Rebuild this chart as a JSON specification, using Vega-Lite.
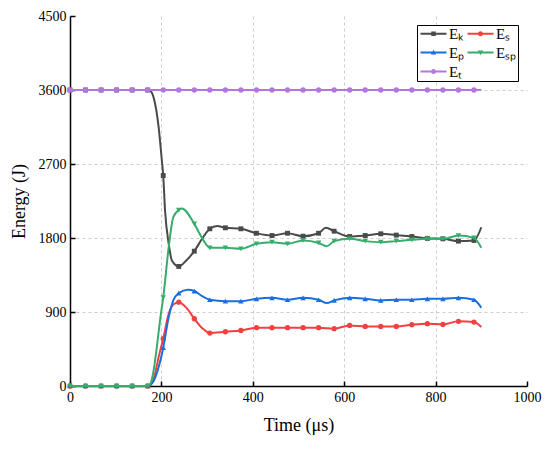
{
  "$schema": "https://vega.github.io/schema/vega-lite/v6.json",
  "width": 457,
  "height": 370,
  "autosize": {"type": "none"},
  "padding": {"left": 70, "top": 16, "right": 23, "bottom": 63},
  "background": "white",
  "datasets": {
    "energy": [
      {"t": 0, "s": "Ek", "E": 3600}, {"t": 34, "s": "Ek", "E": 3600}, {"t": 68, "s": "Ek", "E": 3600},
      {"t": 102, "s": "Ek", "E": 3600}, {"t": 136, "s": "Ek", "E": 3600}, {"t": 170, "s": "Ek", "E": 3600},
      {"t": 176, "s": "Ek", "E": 3590}, {"t": 183, "s": "Ek", "E": 3510}, {"t": 194, "s": "Ek", "E": 3146},
      {"t": 201, "s": "Ek", "E": 2741}, {"t": 204, "s": "Ek", "E": 2559}, {"t": 208, "s": "Ek", "E": 2134},
      {"t": 216, "s": "Ek", "E": 1730}, {"t": 223, "s": "Ek", "E": 1527}, {"t": 238, "s": "Ek", "E": 1454},
      {"t": 255, "s": "Ek", "E": 1530}, {"t": 272, "s": "Ek", "E": 1640}, {"t": 290, "s": "Ek", "E": 1800},
      {"t": 306, "s": "Ek", "E": 1912}, {"t": 322, "s": "Ek", "E": 1945}, {"t": 340, "s": "Ek", "E": 1924},
      {"t": 374, "s": "Ek", "E": 1912}, {"t": 408, "s": "Ek", "E": 1858}, {"t": 442, "s": "Ek", "E": 1830},
      {"t": 476, "s": "Ek", "E": 1858}, {"t": 510, "s": "Ek", "E": 1822}, {"t": 544, "s": "Ek", "E": 1858},
      {"t": 560, "s": "Ek", "E": 1924}, {"t": 578, "s": "Ek", "E": 1883}, {"t": 612, "s": "Ek", "E": 1818},
      {"t": 646, "s": "Ek", "E": 1830}, {"t": 680, "s": "Ek", "E": 1851}, {"t": 714, "s": "Ek", "E": 1835},
      {"t": 748, "s": "Ek", "E": 1818}, {"t": 782, "s": "Ek", "E": 1795}, {"t": 816, "s": "Ek", "E": 1790},
      {"t": 850, "s": "Ek", "E": 1762}, {"t": 884, "s": "Ek", "E": 1770}, {"t": 900, "s": "Ek", "E": 1931},

      {"t": 0, "s": "Es", "E": 0}, {"t": 34, "s": "Es", "E": 0}, {"t": 68, "s": "Es", "E": 0},
      {"t": 102, "s": "Es", "E": 0}, {"t": 136, "s": "Es", "E": 0}, {"t": 170, "s": "Es", "E": 0},
      {"t": 180, "s": "Es", "E": 40}, {"t": 186, "s": "Es", "E": 150}, {"t": 194, "s": "Es", "E": 352},
      {"t": 204, "s": "Es", "E": 575}, {"t": 216, "s": "Es", "E": 879}, {"t": 226, "s": "Es", "E": 992},
      {"t": 238, "s": "Es", "E": 1020}, {"t": 255, "s": "Es", "E": 950}, {"t": 272, "s": "Es", "E": 818},
      {"t": 290, "s": "Es", "E": 700}, {"t": 306, "s": "Es", "E": 644}, {"t": 340, "s": "Es", "E": 660},
      {"t": 374, "s": "Es", "E": 676}, {"t": 408, "s": "Es", "E": 709}, {"t": 442, "s": "Es", "E": 709},
      {"t": 476, "s": "Es", "E": 709}, {"t": 510, "s": "Es", "E": 709}, {"t": 544, "s": "Es", "E": 709},
      {"t": 578, "s": "Es", "E": 697}, {"t": 612, "s": "Es", "E": 737}, {"t": 646, "s": "Es", "E": 725},
      {"t": 680, "s": "Es", "E": 725}, {"t": 714, "s": "Es", "E": 725}, {"t": 748, "s": "Es", "E": 746},
      {"t": 782, "s": "Es", "E": 758}, {"t": 816, "s": "Es", "E": 749}, {"t": 850, "s": "Es", "E": 786},
      {"t": 884, "s": "Es", "E": 777}, {"t": 900, "s": "Es", "E": 717},

      {"t": 0, "s": "Ep", "E": 0}, {"t": 34, "s": "Ep", "E": 0}, {"t": 68, "s": "Ep", "E": 0},
      {"t": 102, "s": "Ep", "E": 0}, {"t": 136, "s": "Ep", "E": 0}, {"t": 170, "s": "Ep", "E": 0},
      {"t": 183, "s": "Ep", "E": 60}, {"t": 194, "s": "Ep", "E": 231}, {"t": 204, "s": "Ep", "E": 466},
      {"t": 216, "s": "Ep", "E": 838}, {"t": 226, "s": "Ep", "E": 1041}, {"t": 238, "s": "Ep", "E": 1130},
      {"t": 258, "s": "Ep", "E": 1171}, {"t": 272, "s": "Ep", "E": 1155}, {"t": 290, "s": "Ep", "E": 1090},
      {"t": 306, "s": "Ep", "E": 1049}, {"t": 340, "s": "Ep", "E": 1032}, {"t": 374, "s": "Ep", "E": 1032},
      {"t": 408, "s": "Ep", "E": 1061}, {"t": 442, "s": "Ep", "E": 1073}, {"t": 476, "s": "Ep", "E": 1049},
      {"t": 510, "s": "Ep", "E": 1073}, {"t": 544, "s": "Ep", "E": 1049}, {"t": 562, "s": "Ep", "E": 1008},
      {"t": 578, "s": "Ep", "E": 1041}, {"t": 612, "s": "Ep", "E": 1073}, {"t": 646, "s": "Ep", "E": 1061},
      {"t": 680, "s": "Ep", "E": 1041}, {"t": 714, "s": "Ep", "E": 1049}, {"t": 748, "s": "Ep", "E": 1049},
      {"t": 782, "s": "Ep", "E": 1061}, {"t": 816, "s": "Ep", "E": 1061}, {"t": 850, "s": "Ep", "E": 1073},
      {"t": 884, "s": "Ep", "E": 1049}, {"t": 900, "s": "Ep", "E": 952},

      {"t": 0, "s": "Esp", "E": 0}, {"t": 34, "s": "Esp", "E": 0}, {"t": 68, "s": "Esp", "E": 0},
      {"t": 102, "s": "Esp", "E": 0}, {"t": 136, "s": "Esp", "E": 0}, {"t": 170, "s": "Esp", "E": 0},
      {"t": 176, "s": "Esp", "E": 29}, {"t": 183, "s": "Esp", "E": 190}, {"t": 190, "s": "Esp", "E": 474},
      {"t": 197, "s": "Esp", "E": 798}, {"t": 204, "s": "Esp", "E": 1074}, {"t": 216, "s": "Esp", "E": 1688},
      {"t": 226, "s": "Esp", "E": 2053}, {"t": 238, "s": "Esp", "E": 2140}, {"t": 245, "s": "Esp", "E": 2160},
      {"t": 272, "s": "Esp", "E": 1972}, {"t": 290, "s": "Esp", "E": 1790}, {"t": 306, "s": "Esp", "E": 1681},
      {"t": 340, "s": "Esp", "E": 1681}, {"t": 374, "s": "Esp", "E": 1669}, {"t": 408, "s": "Esp", "E": 1730},
      {"t": 442, "s": "Esp", "E": 1749}, {"t": 476, "s": "Esp", "E": 1730}, {"t": 510, "s": "Esp", "E": 1770},
      {"t": 544, "s": "Esp", "E": 1740}, {"t": 562, "s": "Esp", "E": 1700}, {"t": 578, "s": "Esp", "E": 1762},
      {"t": 612, "s": "Esp", "E": 1790}, {"t": 646, "s": "Esp", "E": 1762}, {"t": 680, "s": "Esp", "E": 1749},
      {"t": 714, "s": "Esp", "E": 1762}, {"t": 748, "s": "Esp", "E": 1778}, {"t": 782, "s": "Esp", "E": 1790},
      {"t": 816, "s": "Esp", "E": 1790}, {"t": 850, "s": "Esp", "E": 1830}, {"t": 884, "s": "Esp", "E": 1802},
      {"t": 900, "s": "Esp", "E": 1681},

      {"t": 0, "s": "Et", "E": 3600}, {"t": 34, "s": "Et", "E": 3600}, {"t": 68, "s": "Et", "E": 3600},
      {"t": 102, "s": "Et", "E": 3600}, {"t": 136, "s": "Et", "E": 3600}, {"t": 170, "s": "Et", "E": 3600},
      {"t": 204, "s": "Et", "E": 3600}, {"t": 238, "s": "Et", "E": 3600}, {"t": 272, "s": "Et", "E": 3600},
      {"t": 306, "s": "Et", "E": 3600}, {"t": 340, "s": "Et", "E": 3600}, {"t": 374, "s": "Et", "E": 3600},
      {"t": 408, "s": "Et", "E": 3600}, {"t": 442, "s": "Et", "E": 3600}, {"t": 476, "s": "Et", "E": 3600},
      {"t": 510, "s": "Et", "E": 3600}, {"t": 544, "s": "Et", "E": 3600}, {"t": 578, "s": "Et", "E": 3600},
      {"t": 612, "s": "Et", "E": 3600}, {"t": 646, "s": "Et", "E": 3600}, {"t": 680, "s": "Et", "E": 3600},
      {"t": 714, "s": "Et", "E": 3600}, {"t": 748, "s": "Et", "E": 3600}, {"t": 782, "s": "Et", "E": 3600},
      {"t": 816, "s": "Et", "E": 3600}, {"t": 850, "s": "Et", "E": 3600}, {"t": 884, "s": "Et", "E": 3600},
      {"t": 900, "s": "Et", "E": 3600}
    ]
  },
  "data": {"name": "energy"},
  "encoding": {
    "x": {
      "field": "t",
      "type": "quantitative",
      "scale": {"domain": [0, 1000], "nice": false},
      "axis": {
        "title": "Time (μs)",
        "values": [0, 200, 400, 600, 800, 1000],
        "format": "d",
        "labelFlush": false,
        "titlePadding": 12,
        "gridOpacity": {"condition": {"test": "datum.value >= 1000", "value": 0}, "value": 1}
      }
    },
    "y": {
      "field": "E",
      "type": "quantitative",
      "scale": {"domain": [0, 4500], "nice": false},
      "axis": {
        "title": "Energy (J)",
        "values": [0, 900, 1800, 2700, 3600, 4500],
        "format": "d",
        "labelFlush": false,
        "titlePadding": 10,
        "gridOpacity": {"condition": {"test": "datum.value >= 4500", "value": 0}, "value": 1}
      }
    }
  },
  "layer": [
    {
      "transform": [{"filter": "false"}],
      "mark": {"type": "point", "filled": true, "opacity": 1},
      "encoding": {
        "color": {
          "field": "s",
          "type": "nominal",
          "scale": {
            "domain": ["Ek", "Es", "Ep", "Esp", "Et"],
            "range": ["#4a4a4a", "#f14040", "#1a6fdf", "#37ad6b", "#b177de"]
          },
          "legend": {
            "title": null,
            "orient": "top-right",
            "direction": "horizontal",
            "offset": 9,
            "columns": 2,
            "symbolSize": 100,
            "symbolOpacity": 1,
            "symbolStrokeWidth": 0,
            "strokeColor": "#000",
            "fillColor": "#fff",
            "padding": 1,
            "columnPadding": 0,
            "rowPadding": 3,
            "labelFont": "Times New Roman, Liberation Serif, serif",
            "labelFontSize": 15,
            "labelColor": "#000",
            "labelOffset": 16,
            "labelExpr": "({'Ek': 'Eₖ', 'Es': 'Eₛ', 'Ep': 'Eₚ', 'Esp': 'Eₛₚ', 'Et': 'Eₜ'})[datum.label]"
          }
        },
        "shape": {
          "field": "s",
          "type": "nominal",
          "scale": {
            "domain": ["Ek", "Es", "Ep", "Esp", "Et"],
            "range": [
              "M-1,-0.2H4.2V0.2H-1Z M1.15,-0.45H2.05V0.45H1.15Z",
              "M-1,-0.2H4.2V0.2H-1Z M2.1,0A0.5,0.5 0 1,1 1.1,0A0.5,0.5 0 1,1 2.1,0Z",
              "M-1,-0.2H4.2V0.2H-1Z M1.6,-0.55L2.15,0.4H1.05Z",
              "M-1,-0.2H4.2V0.2H-1Z M1.6,0.55L1.05,-0.4H2.15Z",
              "M-1,-0.2H4.2V0.2H-1Z M2.1,0A0.5,0.5 0 1,1 1.1,0A0.5,0.5 0 1,1 2.1,0Z"
            ]
          }
        }
      }
    },
    {
      "transform": [{"filter": "datum.s === 'Ek'"}],
      "mark": {"type": "line", "color": "#4a4a4a", "strokeWidth": 2, "interpolate": "monotone"}
    },
    {
      "transform": [{"filter": "datum.s === 'Ek' && datum.t % 34 === 0"}],
      "mark": {"type": "point", "shape": "square", "filled": true, "opacity": 1, "color": "#4a4a4a", "size": 24}
    },
    {
      "transform": [{"filter": "datum.s === 'Es'"}],
      "mark": {"type": "line", "color": "#f14040", "strokeWidth": 2, "interpolate": "monotone"}
    },
    {
      "transform": [{"filter": "datum.s === 'Es' && datum.t % 34 === 0"}],
      "mark": {"type": "point", "shape": "circle", "filled": true, "opacity": 1, "color": "#f14040", "size": 28}
    },
    {
      "transform": [{"filter": "datum.s === 'Ep'"}],
      "mark": {"type": "line", "color": "#1a6fdf", "strokeWidth": 2, "interpolate": "monotone"}
    },
    {
      "transform": [{"filter": "datum.s === 'Ep' && datum.t % 34 === 0"}],
      "mark": {"type": "point", "shape": "triangle-up", "filled": true, "opacity": 1, "color": "#1a6fdf", "size": 30}
    },
    {
      "transform": [{"filter": "datum.s === 'Esp'"}],
      "mark": {"type": "line", "color": "#37ad6b", "strokeWidth": 2, "interpolate": "monotone"}
    },
    {
      "transform": [{"filter": "datum.s === 'Esp' && datum.t % 34 === 0"}],
      "mark": {"type": "point", "shape": "triangle-down", "filled": true, "opacity": 1, "color": "#37ad6b", "size": 30}
    },
    {
      "transform": [{"filter": "datum.s === 'Et'"}],
      "mark": {"type": "line", "color": "#b177de", "strokeWidth": 2, "interpolate": "monotone"}
    },
    {
      "transform": [{"filter": "datum.s === 'Et' && datum.t % 34 === 0"}],
      "mark": {"type": "point", "shape": "circle", "filled": true, "opacity": 1, "color": "#b177de", "size": 28}
    }
  ],
  "config": {
    "view": {"stroke": null},
    "style": {
      "guide-label": {"font": "Times New Roman, Liberation Serif, serif"},
      "guide-title": {"font": "Times New Roman, Liberation Serif, serif"}
    },
    "axis": {
      "domainColor": "#000",
      "domainWidth": 1.5,
      "tickColor": "#000",
      "tickWidth": 1.5,
      "tickSize": -5,
      "labelPadding": 9,
      "labelFont": "Times New Roman, Liberation Serif, serif",
      "labelFontSize": 14,
      "labelColor": "#000",
      "titleFont": "Times New Roman, Liberation Serif, serif",
      "titleFontSize": 18,
      "titleFontWeight": "normal",
      "titleColor": "#000",
      "gridColor": "#cccccc",
      "gridDash": [3, 3],
      "gridWidth": 1
    }
  }
}
